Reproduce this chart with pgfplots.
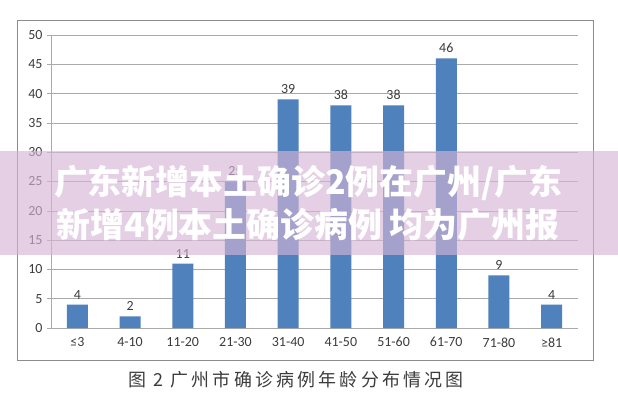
\documentclass[border=0pt]{standalone}
\usepackage{fontspec}
\setmainfont{Carlito}
\newfontfamily\cjk{Noto Sans CJK SC}
\newfontfamily\cjkcap{Noto Sans CJK SC}[LetterSpace=18]
\usepackage{pgfplots}
\pgfplotsset{compat=1.18}
\definecolor{barblue}{RGB}{79,129,189}
\definecolor{txtgray}{RGB}{60,60,60}
\definecolor{gridgray}{RGB}{170,170,170}
\definecolor{framegray}{RGB}{140,140,140}
\definecolor{bannerpink}{RGB}{213,181,213}
\begin{document}
\begin{tikzpicture}[x=1bp,y=1bp]
\useasboundingbox (0,0) rectangle (618,407);
\fill[white] (0,0) rectangle (618,407);
\draw[framegray, line width=0.8bp] (17,387) rectangle (593,47);
\begin{axis}[
  at={(51bp,79bp)}, anchor=south west,
  scale only axis, width=527bp, height=293bp,
  font=\fontsize{14}{16}\selectfont,
  xmin=-0.5, xmax=9.5, ymin=0, ymax=50,
  ytick={0,5,...,50},
  xtick={0,...,9},
  xticklabels={≤3,4-10,11-20,21-30,31-40,41-50,51-60,61-70,71-80,≥81},
  major x tick style={draw=none},
  extra x ticks={-0.5,0.5,...,9.5},
  extra x tick labels={},
  extra x tick style={grid=none, major tick length=5bp, tick style={draw=gridgray}},
  tick align=outside,
  major tick length=4bp,
  tick style={gridgray, line width=0.6bp},
  axis x line*=bottom, axis y line*=left,
  axis line style={-, draw=gridgray, line width=0.8bp},
  ymajorgrids, grid style={gridgray, line width=0.6bp},
  /pgf/number format/assume math mode=true,
  tick label style={font=\fontsize{14}{16}\selectfont, text=txtgray},
  xticklabel style={yshift=-2bp},
  yticklabel style={xshift=-1bp},
  ybar, bar width=21bp,
  nodes near coords,
  every node near coord/.append style={font=\fontsize{14}{16}\selectfont, text=txtgray, yshift=2bp},
]
\addplot[fill=barblue, draw=none] coordinates {(0,4) (1,2) (2,11) (3,25) (4,39) (5,38) (6,38) (7,46) (8,9) (9,4)};
\end{axis}
\fill[bannerpink, opacity=0.64] (0,152) rectangle (618,256);
\node[text=white, font=\cjk\bfseries\fontsize{34}{40}\selectfont] at (308,224) {广东新增本土确诊2例在广州/广东};
\node[text=white, font=\cjk\bfseries\fontsize{34}{40}\selectfont] at (308,182) {新增4例本土确诊病例 均为广州报};
\node[text=txtgray, font=\cjkcap\fontsize{18}{20}\selectfont] at (296,27) {图 2 广州市确诊病例年龄分布情况图};
\end{tikzpicture}
\end{document}
